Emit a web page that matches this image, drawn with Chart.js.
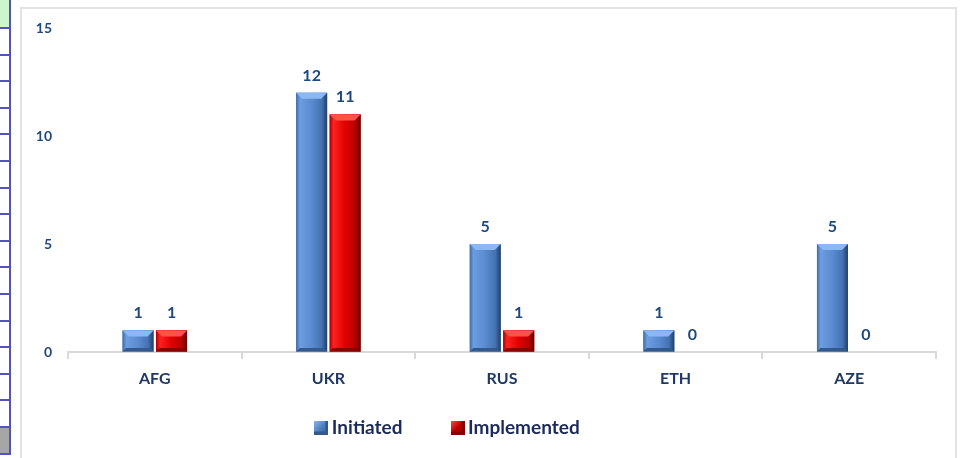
<!DOCTYPE html>
<html>
<head>
<meta charset="utf-8">
<title>Initiated vs Implemented</title>
<script src="https://cdn.jsdelivr.net/npm/chart.js@4.4.1/dist/chart.umd.min.js"></script>
<style>
  body { margin: 0; background: #fff; width: 962px; height: 458px; overflow: hidden; position: relative; font-family: Lato, sans-serif; }
  #sheet { position: absolute; left: 0; top: 0; width: 11px; height: 458px; }
  #sheet .vline { position: absolute; left: 9px; top: 0; width: 2px; height: 455px; background: #5353b8; }
  #sheet .hline { position: absolute; left: 0; width: 10px; height: 2px; background: #5353b8; }
  #sheet .green { position: absolute; left: 0; top: 0; width: 9px; height: 28px; background: #ccf5cc; }
  #sheet .grey { position: absolute; left: 0; top: 427px; width: 9px; height: 26px; background: #a6a6a6; }
  #frame { position: absolute; left: 20px; top: 7px; width: 933px; height: 470px; border: 2px solid #e2e2e2; background: #fff; }
  #frame canvas { position: absolute; left: 0; top: 0; }
</style>
</head>
<body>
<div id="sheet"><div class="green"></div><div class="grey"></div><div class="vline"></div></div>
<div id="frame"><canvas id="chart" width="933" height="466"></canvas></div>
<script>
const categories = ['AFG', 'UKR', 'RUS', 'ETH', 'AZE'];
const seriesNames = ['Initiated', 'Implemented'];
const initiated = [1, 12, 5, 1, 5];
const implemented = [1, 11, 1, 0, 0];
const yTicks = [0, 5, 10, 15];

// spreadsheet rows peeking in on the left
const sheet = document.getElementById('sheet');
for (let i = 0; i <= 16; i++) {
  const l = document.createElement('div');
  l.className = 'hline';
  l.style.top = Math.round(27 + i * 26.6) + 'px';
  sheet.appendChild(l);
}

const barStyles = [
  { base: '#4f81bd', cap: '#8ab8f2', dark: '#34598c',
    stops: [[0, '#3d6ba8'], [0.12, '#6d9de0'], [0.5, '#5a8bd0'], [0.82, '#4573b3'], [1, '#213f6b']] },
  { base: '#c00000', cap: '#ff5050', dark: '#8c0000',
    stops: [[0, '#a80000'], [0.12, '#ff2020'], [0.5, '#e00000'], [0.82, '#b80000'], [1, '#640000']] }
];

function legendIcon(st) {
  const c = document.createElement('canvas');
  c.width = 14; c.height = 14;
  const x = c.getContext('2d');
  const g = x.createLinearGradient(0, 0, 14, 14);
  g.addColorStop(0, st.cap);
  g.addColorStop(0.5, st.base);
  g.addColorStop(1, st.dark);
  x.fillStyle = g;
  x.fillRect(0, 0, 14, 14);
  x.fillStyle = st.dark;
  x.fillRect(11, 0, 3, 14);
  x.fillRect(0, 11, 14, 3);
  return c;
}
const legendIcons = barStyles.map(legendIcon);

const bevelPlugin = {
  id: 'bevel',
  afterDatasetsDraw(chart) {
    const ctx = chart.ctx;
    chart.data.datasets.forEach((ds, di) => {
      const st = barStyles[di];
      chart.getDatasetMeta(di).data.forEach(bar => {
        const h = bar.base - bar.y;
        if (h < 1) return;
        const x0 = bar.x - bar.width / 2, x1 = bar.x + bar.width / 2;
        const g = ctx.createLinearGradient(x0, 0, x1, 0);
        st.stops.forEach(s => g.addColorStop(s[0], s[1]));
        ctx.save();
        ctx.fillStyle = g;
        ctx.fillRect(x0, bar.y, bar.width, h);
        const b = Math.min(6, h / 3);
        ctx.fillStyle = st.cap;
        ctx.beginPath();
        ctx.moveTo(x0, bar.y); ctx.lineTo(x1, bar.y);
        ctx.lineTo(x1 - b, bar.y + b); ctx.lineTo(x0 + b, bar.y + b);
        ctx.closePath(); ctx.fill();
        ctx.fillStyle = st.dark;
        ctx.beginPath();
        ctx.moveTo(x0, bar.base); ctx.lineTo(x1, bar.base);
        ctx.lineTo(x1 - b * 0.6, bar.base - b * 0.6); ctx.lineTo(x0 + b * 0.6, bar.base - b * 0.6);
        ctx.closePath(); ctx.fill();
        ctx.restore();
      });
    });
  }
};

const valueLabels = {
  id: 'valueLabels',
  afterDatasetsDraw(chart) {
    const ctx = chart.ctx;
    ctx.save();
    ctx.font = 'bold 16px Lato, sans-serif';
    ctx.fillStyle = '#1f497d';
    ctx.textAlign = 'center';
    ctx.textBaseline = 'alphabetic';
    chart.data.datasets.forEach((ds, di) => {
      chart.getDatasetMeta(di).data.forEach((bar, i) => {
        ctx.fillText(String(ds.data[i]), bar.x, bar.y - 12);
      });
    });
    ctx.restore();
  }
};

// nudge the legend so it sits where the original had it
const legendShiftX = -29;
const legendShiftY = -28;
const legendNudge = {
  id: 'legendNudge',
  afterLayout(chart) {
    const lg = chart.legend;
    lg.left += legendShiftX;
    lg.right += legendShiftX;
    lg.top += legendShiftY;
    lg.bottom += legendShiftY;
  }
};

new Chart(document.getElementById('chart'), {
  type: 'bar',
  data: {
    labels: categories,
    datasets: [
      { label: seriesNames[0], data: initiated, backgroundColor: barStyles[0].base },
      { label: seriesNames[1], data: implemented, backgroundColor: barStyles[1].base }
    ]
  },
  options: {
    responsive: false,
    animation: false,
    categoryPercentage: 0.386,
    barPercentage: 0.925,
    layout: { padding: { left: 0, right: 19, top: 19, bottom: 0 } },
    scales: {
      x: {
        grid: { display: true, drawOnChartArea: false, offset: true, tickLength: 7, color: '#d9d9d9', lineWidth: 2 },
        border: { color: '#d9d9d9', width: 2 },
        ticks: { color: '#1f3864', padding: 10, font: { family: 'Lato', size: 16, weight: 'bold' } },
        afterFit(scale) { scale.height = 40; }
      },
      y: {
        min: 0,
        max: 15,
        grid: { display: true, drawOnChartArea: false, drawTicks: true, tickLength: 14, color: 'rgba(0,0,0,0)' },
        border: { display: false },
        ticks: { color: '#1f497d', padding: 2, font: { family: 'Lato', size: 14, weight: 'bold' } },
        afterBuildTicks(scale) { scale.ticks = yTicks.map(v => ({ value: v })); },
        afterFit(scale) { scale.width = 46; }
      }
    },
    plugins: {
      tooltip: { enabled: false },
      legend: {
        position: 'bottom',
        labels: {
          usePointStyle: true,
          boxWidth: 2,
          padding: 54,
          color: '#1b2a5c',
          font: { family: 'Lato', size: 19, weight: 'bold' },
          generateLabels(chart) {
            return chart.data.datasets.map((ds, i) => ({
              text: ds.label,
              fillStyle: barStyles[i].base,
              strokeStyle: barStyles[i].base,
              lineWidth: 0,
              pointStyle: legendIcons[i],
              hidden: false,
              datasetIndex: i,
              fontColor: '#1b2a5c'
            }));
          }
        }
      }
    }
  },
  plugins: [bevelPlugin, valueLabels, legendNudge]
});
</script>
</body>
</html>
